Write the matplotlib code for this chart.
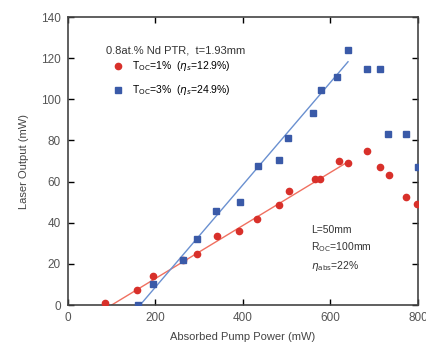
import numpy as np
import matplotlib
matplotlib.use('Agg')
import matplotlib.pyplot as plt

plt.rcParams['font.family'] = ['Liberation Sans', 'DejaVu Sans']

# T_OC = 1 % (red circles)
red_x = [85, 158, 194, 263, 295, 340, 391, 432, 482, 505, 565, 576, 620, 640, 683, 713, 734, 772, 798]
red_y = [1, 7.3, 14, 22, 25, 33.5, 36, 42, 48.6, 55.5, 61.3, 61.3, 70, 69, 75, 67, 63, 52.5, 49]

# T_OC = 3 % (blue squares)
blue_x = [160, 195, 262, 294, 338, 393, 435, 482, 503, 561, 578, 614, 640, 683, 713, 732, 773, 800]
blue_y = [0, 10, 22, 32, 45.7, 50, 67.6, 70.5, 81, 93.6, 104.5, 111, 124, 114.7, 114.7, 83, 83, 67]

# linear fits (slope efficiency, threshold, end)
red_fit = (0.129, 100, 640)
blue_fit = (0.249, 165, 640)

red_c = '#d8302a'
blue_c = '#3a5aa8'

fig = plt.figure(figsize=(4.27, 3.49), dpi=100)
ax = fig.add_axes([0.159, 0.126, 0.820, 0.825])

for (slope, x0, x1), col in [(red_fit, '#f07060'), (blue_fit, '#6a90d0')]:
    fx = np.array([x0, x1])
    ax.plot(fx, slope * (fx - x0), color=col, lw=1.0, zorder=1)

ax.plot(red_x, red_y, 'o', color=red_c, ms=4.5, mec=red_c, zorder=3,
        label=r'T$_{\rm OC}$=1%  ($\eta_s$=12.9%)')
ax.plot(blue_x, blue_y, 's', color=blue_c, ms=4.5, mec=blue_c, zorder=3,
        label=r'T$_{\rm OC}$=3%  ($\eta_s$=24.9%)')

ax.set_xlim(0, 800)
ax.set_ylim(0, 140)
ax.set_xticks([0, 200, 400, 600, 800])
ax.set_yticks(range(0, 141, 20))
ax.tick_params(direction='in', length=4, width=1, labelsize=8.5,
               labelcolor='#555555', top=True, right=True, pad=5)
for s in ax.spines.values():
    s.set_linewidth(1.2)
    s.set_color('#444444')

ax.set_xlabel('Absorbed Pump Power (mW)', fontsize=8, color='#444444', labelpad=6)
ax.set_ylabel('Laser Output (mW)', fontsize=8, color='#444444', labelpad=9)

ax.text(88, 124, '0.8at.% Nd PTR,  t=1.93mm', fontsize=8, color='#333333', va='center')
ax.legend(loc='upper left', bbox_to_anchor=(0.125, 0.853), frameon=False,
          fontsize=7.5, handletextpad=0.8, labelspacing=0.95, handlelength=1.2,
          borderpad=0, borderaxespad=0)

ax.text(556, 39, 'L=50mm\n' + r'R$_{\rm OC}$=100mm' + '\n' + r'$\eta_{\rm abs}$=22%',
        fontsize=7.5, color='#333333', va='top', linespacing=1.5)

fig.savefig('out.png', dpi=100)
